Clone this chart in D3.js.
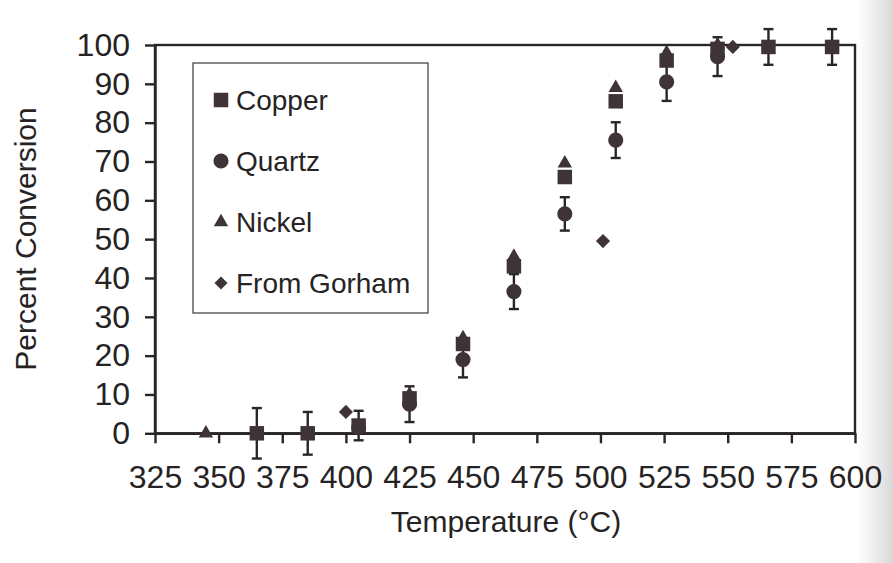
<!DOCTYPE html>
<html>
<head>
<meta charset="utf-8">
<script src="https://cdn.jsdelivr.net/npm/d3@7"></script>
<style>
  body { margin: 0; background: #fff; }
  svg { display: block; }
  text { fill: #262324; }
</style>
</head>
<body>
<svg id="chart" width="893" height="563"></svg>
<script>
// x ticks and y ticks
const xTicks = [325, 350, 375, 400, 425, 450, 475, 500, 525, 550, 575, 600];
const yTicks = [0, 10, 20, 30, 40, 50, 60, 70, 80, 90, 100];

// Copper (squares)
const copperTemp = [365, 385, 405, 425, 446, 466, 486, 506, 526, 546, 566, 591];
const copperConv = [0, 0, 2, 9, 23, 43, 66, 85.5, 96, 99, 99.5, 99.5];
const copperErr = [6.5, 5.5, 3.8, null, null, null, null, null, null, null, 4.6, 4.6];

// Quartz (circles)
const quartzTemp = [405, 425, 446, 466, 486, 506, 526, 546];
const quartzConv = [1.5, 7.5, 19, 36.5, 56.5, 75.5, 90.5, 97];
const quartzErr = [null, 4.6, 4.6, 4.5, 4.3, 4.6, 4.9, 5];

// Nickel (triangles)
const nickelTemp = [345, 425, 446, 466, 486, 506, 526, 546];
const nickelConv = [0, 10, 24.5, 45.5, 69.5, 89, 98, 100];

// From Gorham (diamonds)
const gorhamTemp = [400, 501, 552];
const gorhamConv = [5.5, 49.5, 99.5];

const legendNames = ["Copper", "Quartz", "Nickel", "From Gorham"];

const svg = d3.select("#chart");
const ink = "#2a2526";
const markFill = "#3f3435";

// scanned page edge
const defs = svg.append("defs");
const grad = defs.append("linearGradient").attr("id", "edge");
grad.append("stop").attr("offset", "0").attr("stop-color", "#fff");
grad.append("stop").attr("offset", "1").attr("stop-color", "#d9d9d9");
svg.append("rect").attr("x", 858).attr("y", 0).attr("width", 35).attr("height", 563)
  .attr("fill", "url(#edge)");

const x = d3.scaleLinear().domain([325, 600]).range([155, 855]);
const y = d3.scaleLinear().domain([0, 100]).range([433.3, 45]);

// frame
svg.append("rect")
  .attr("x", x(325)).attr("y", y(100))
  .attr("width", x(600) - x(325)).attr("height", y(0) - y(100))
  .attr("fill", "none").attr("stroke", ink).attr("stroke-width", 2.4);

const tickFont = "'Liberation Sans Narrow', 'Arial Narrow', 'Liberation Sans', sans-serif";

const xAxis = svg.append("g")
  .attr("transform", `translate(0,${y(0)})`)
  .call(d3.axisBottom(x).tickValues(xTicks).tickSize(10).tickPadding(22).tickSizeOuter(0));
const yAxis = svg.append("g")
  .attr("transform", `translate(${x(325)},0)`)
  .call(d3.axisLeft(y).tickValues(yTicks).tickSize(10).tickPadding(15).tickSizeOuter(0));

[xAxis, yAxis].forEach(function (g) {
  g.select(".domain").attr("stroke", ink).attr("stroke-width", 2.4);
  g.selectAll(".tick line").attr("stroke", ink).attr("stroke-width", 2.4);
  g.selectAll(".tick text")
    .attr("fill", "#262324")
    .style("font-family", tickFont)
    .style("font-size", "32px");
});

// axis titles
svg.append("text")
  .attr("x", 506).attr("y", 532)
  .attr("text-anchor", "middle")
  .style("font-family", "'Liberation Sans', Arial, sans-serif")
  .style("font-size", "30px")
  .text("Temperature (°C)");

svg.append("text")
  .attr("transform", "translate(36,239) rotate(-90)")
  .attr("text-anchor", "middle")
  .style("font-family", "'Liberation Sans', Arial, sans-serif")
  .style("font-size", "30px")
  .text("Percent Conversion");

// symbols
const symSquare = d3.symbol().type(d3.symbolSquare).size(210);
const symCircle = d3.symbol().type(d3.symbolCircle).size(180);
const symTriangle = d3.symbol().type(d3.symbolTriangle).size(90);
const symDiamond = d3.symbol().type(d3.symbolSquare).size(100);

function zip(t, v, e) {
  return t.map((d, i) => ({ t: d, v: v[i], e: e ? e[i] : null }));
}
const copper = zip(copperTemp, copperConv, copperErr);
const quartz = zip(quartzTemp, quartzConv, quartzErr);
const nickel = zip(nickelTemp, nickelConv);
const gorham = zip(gorhamTemp, gorhamConv);

// error bars
const errData = copper.concat(quartz).filter((d) => d.e != null);
const errG = svg.append("g").attr("stroke", ink).attr("stroke-width", 2.4);
errData.forEach(function (d) {
  const cx = x(d.t);
  errG.append("line").attr("x1", cx).attr("x2", cx).attr("y1", y(d.v - d.e)).attr("y2", y(d.v + d.e));
  errG.append("line").attr("x1", cx - 5).attr("x2", cx + 5).attr("y1", y(d.v - d.e)).attr("y2", y(d.v - d.e));
  errG.append("line").attr("x1", cx - 5).attr("x2", cx + 5).attr("y1", y(d.v + d.e)).attr("y2", y(d.v + d.e));
});

function drawMarks(data, sym, rot) {
  svg.append("g").selectAll("path").data(data).enter().append("path")
    .attr("d", sym)
    .attr("transform", (d) => `translate(${x(d.t)},${y(d.v)})` + (rot ? " rotate(45)" : ""))
    .attr("fill", markFill);
}
drawMarks(quartz, symCircle);
drawMarks(copper, symSquare);
drawMarks(nickel, symTriangle);
drawMarks(gorham, symDiamond, true);

// legend
const legend = svg.append("g");
legend.append("rect")
  .attr("x", 193).attr("y", 63).attr("width", 235).attr("height", 250)
  .attr("fill", "#fff").attr("stroke", "#4a4647").attr("stroke-width", 1.3);

const legendSyms = [symSquare, symCircle, symTriangle, d3.symbol().type(d3.symbolSquare).size(85)];
const legendY = [100, 161, 222, 283];
legendNames.forEach(function (name, i) {
  legend.append("path")
    .attr("d", legendSyms[i])
    .attr("transform", `translate(221,${legendY[i]})` + (i === 3 ? " rotate(45)" : ""))
    .attr("fill", markFill);
  legend.append("text")
    .attr("x", 236).attr("y", legendY[i])
    .attr("dy", "0.36em")
    .style("font-family", "'Liberation Sans', Arial, sans-serif")
    .style("font-size", "28px")
    .text(name);
});
</script>
</body>
</html>
